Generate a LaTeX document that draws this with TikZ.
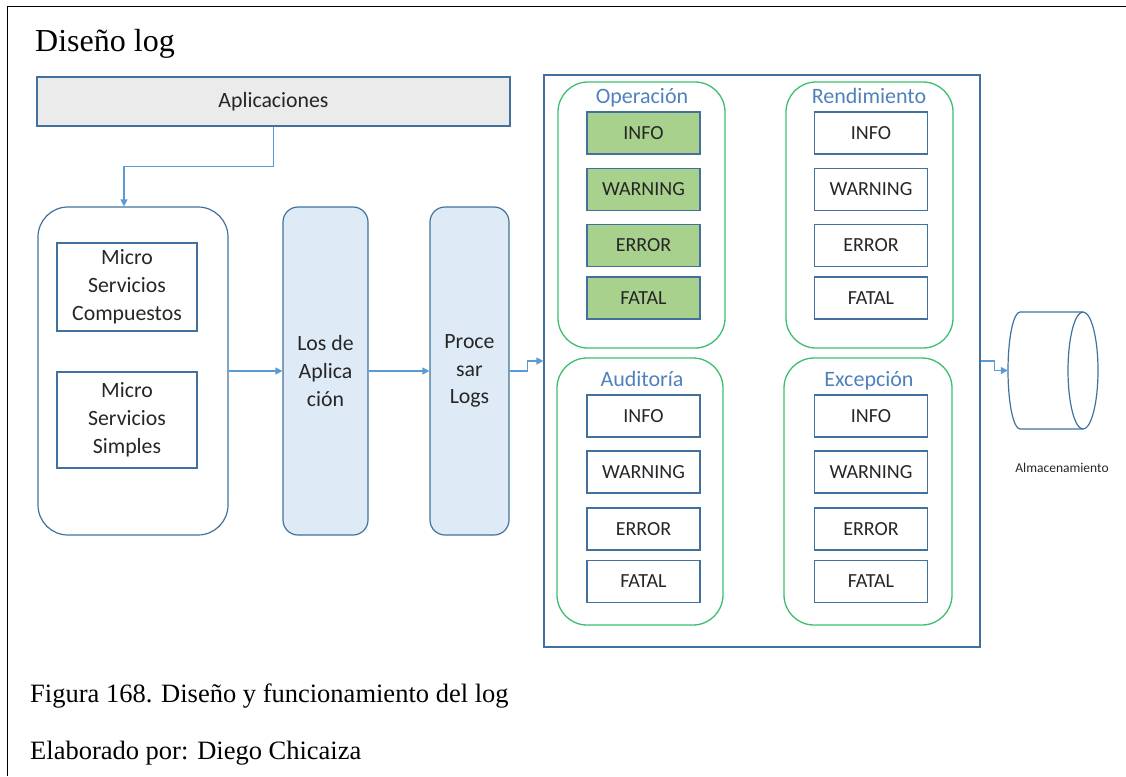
\documentclass[tikz,border=0pt]{standalone}
\usepackage{fontspec}
\setmainfont{Liberation Serif}
\newfontfamily\calibri{Carlito}
\usetikzlibrary{shapes.geometric,arrows.meta}

\definecolor{edgeblue}{RGB}{65,113,156}
\definecolor{arrowblue}{RGB}{91,155,213}
\definecolor{lanefill}{RGB}{222,235,247}
\definecolor{appfill}{RGB}{235,235,235}
\definecolor{levelgreen}{RGB}{169,209,142}
\definecolor{groupgreen}{RGB}{60,190,110}
\definecolor{titleblue}{RGB}{79,129,189}

\tikzset{
  box/.style={draw=edgeblue, line width=1.2pt, rectangle, inner sep=0pt,
    font=\calibri\fontsize{21.8}{27.8}\selectfont, align=center, text=black!85},
  lane/.style={box, fill=lanefill, rounded corners=15pt},
  group/.style={draw=groupgreen, line width=1.3pt, rectangle, rounded corners=30pt,
    minimum width=167pt, minimum height=266pt},
  level/.style={box, minimum width=113pt, minimum height=42pt,
    font=\calibri\fontsize{20}{24}\selectfont},
  oplevel/.style={level, fill=levelgreen},
  grouptitle/.style={font=\calibri\fontsize{22}{24}\selectfont, text=titleblue,
    inner sep=0pt, anchor=base},
  arr/.style={draw=arrowblue, line width=1.2pt, -{Triangle[length=7pt,width=7pt]}},
  caption/.style={font=\fontsize{26.5}{30}\selectfont, anchor=base west, inner sep=0pt},
}

\begin{document}
\begin{tikzpicture}[x=1pt, y=-1pt]
\useasboundingbox (0,0) rectangle (1126,776);

% page frame (top and left edges)
\draw[line width=1pt] (7,776) -- (7,7) -- (1126,7);

\node[font=\fontsize{32}{36}\selectfont, anchor=base west, inner sep=0pt] (title) at (35,52) {Diseño log};

% applications and services
\node[box, fill=appfill, minimum width=473pt, minimum height=49pt] (app) at (273.5,101.5) {Aplicaciones};
\node[box, rounded corners=30pt, minimum width=190pt, minimum height=328pt] (svc) at (133,371) {};
\node[box, minimum width=140pt, minimum height=88pt] (msc) at (127,287) {Micro\\Servicios\\Compuestos};
\node[box, minimum width=140pt, minimum height=96pt] (mss) at (127,420) {Micro\\Servicios\\Simples};

\node[lane, minimum width=85pt, minimum height=328pt] (logapp) at (325.5,371) {Los de\\Aplica\\ción};
\node[lane, minimum width=79pt, minimum height=328pt] (proc) at (469.5,371) {Proce\\sar\\Logs};

% log categories
\node[draw=edgeblue, line width=1.2pt, minimum width=436pt, minimum height=572pt, inner sep=0pt] (frame) at (762,361) {};

\node[group] (gop) at (641.5,215) {};
\node[group] (gren) at (869.5,215) {};
\node[group, minimum width=166pt, minimum height=267pt] (gaud) at (640,491.5) {};
\node[group, minimum width=168pt, minimum height=267pt] (gexc) at (868,491.5) {};

\node[grouptitle] (top) at (642,103) {Operación};
\node[grouptitle] (tren) at (869,103) {Rendimiento};
\node[grouptitle] (taud) at (642,386) {Auditoría};
\node[grouptitle] (texc) at (869,386) {Excepción};

\node[oplevel] (op1) at (643.5,133) {INFO};
\node[oplevel] (op2) at (643.5,189.5) {WARNING};
\node[oplevel] (op3) at (643.5,245.5) {ERROR};
\node[oplevel] (op4) at (643.5,298) {FATAL};

\node[level] (re1) at (871,133) {INFO};
\node[level] (re2) at (871,189.5) {WARNING};
\node[level] (re3) at (871,245.5) {ERROR};
\node[level] (re4) at (871,298) {FATAL};

\node[level] (au1) at (643.5,416) {INFO};
\node[level] (au2) at (643.5,472) {WARNING};
\node[level] (au3) at (643.5,529) {ERROR};
\node[level] (au4) at (643.5,581.5) {FATAL};

\node[level] (ex1) at (871,416) {INFO};
\node[level] (ex2) at (871,472) {WARNING};
\node[level] (ex3) at (871,529) {ERROR};
\node[level] (ex4) at (871,581.5) {FATAL};

% storage: a horizontal cylinder, open face on the right
\node[minimum width=90pt, minimum height=117pt, inner sep=0pt] (store) at (1053,370.5) {};
\draw[edgeblue, line width=1.2pt]
  (1083,312) -- (1020,312)
  arc[start angle=-90, end angle=-270, x radius=12, y radius=58.5]
  -- (1083,429);
\draw[edgeblue, line width=1.2pt] (1083,370.5) ellipse [x radius=15, y radius=58.5];
\node[font=\calibri\fontsize{13.5}{15}\selectfont, text=black!85] (storelbl) at (1062,468) {Almacenamiento};

% connectors
\draw[arr] (app.south) -- ++(0,40) -| ([xshift=-9pt]svc.north);
\draw[arr] (svc.east) -- (logapp.west);
\draw[arr] (logapp.east) -- (proc.west);
\draw[arr] (proc.east) -- ++(18,0) |- (frame.west);
\draw[arr] (frame.east) -- ++(14,0) |- (store.west);

% caption
\node[caption] (cap1) at (30,702) {Figura 168. Diseño y funcionamiento del log};
\node[caption] (cap2) at (30,759) {Elaborado por: Diego Chicaiza};
\end{tikzpicture}
\end{document}
